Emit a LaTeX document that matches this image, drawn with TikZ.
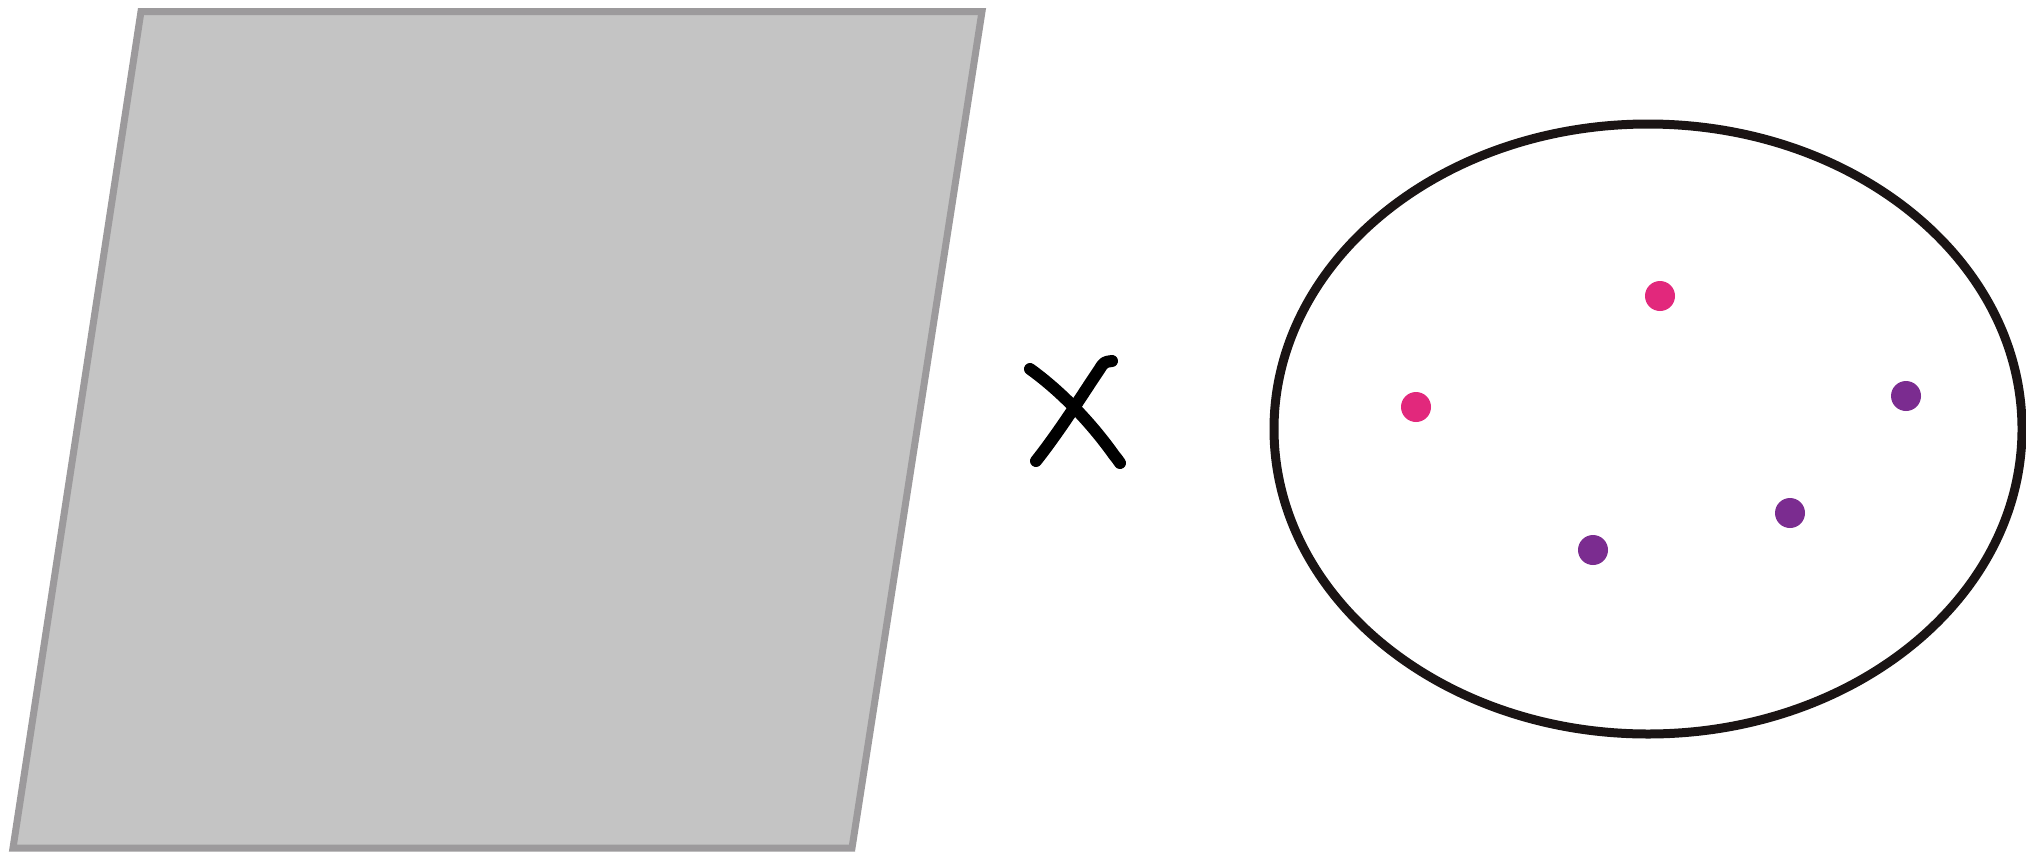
\documentclass[tikz,border=0pt]{standalone}
\usetikzlibrary{shapes.geometric}
\begin{document}
\begin{tikzpicture}[x=1pt,y=-1pt,
  plane/.style={fill=planefill,draw=planeedge,line width=7pt,line join=miter},
  setline/.style={draw=setedge,line width=9pt},
  crossline/.style={draw=black,line width=12pt,line cap=round,line join=round},
  dotpt/.style={circle,inner sep=0pt,minimum size=30pt,fill=#1}]
\definecolor{planefill}{HTML}{C4C4C4}
\definecolor{planeedge}{HTML}{9C9A9C}
\definecolor{setedge}{HTML}{1A1414}
\definecolor{dotpink}{HTML}{E2287C}
\definecolor{dotpurple}{HTML}{7B2C90}
\useasboundingbox (0,0) rectangle (2026,852);
\fill[white] (0,0) rectangle (2026,852);
% plane
\coordinate (p1) at (141,11.5);
\coordinate (p2) at (982,11.5);
\coordinate (p3) at (852,848);
\coordinate (p4) at (13,848);
\draw[plane] (p1) -- (p2) -- (p3) -- (p4) -- cycle;
% cross
\draw[crossline] (1030,369) .. controls (1062,392) and (1092,424) .. (1114,455) .. controls (1118,460) .. (1120,463);
\draw[crossline] (1036,461) .. controls (1062,428) and (1084,392) .. (1099,370) .. controls (1104,362) .. (1112,361);
% set
\node[setline,ellipse,minimum width=748pt,minimum height=610pt,inner sep=0pt] (set) at (1648,429) {};
% points
\node[dotpt=dotpink] (a) at (1660,296) {};
\node[dotpt=dotpink] (b) at (1416,407) {};
\node[dotpt=dotpurple] (c) at (1906,396) {};
\node[dotpt=dotpurple] (d) at (1790,513) {};
\node[dotpt=dotpurple] (e) at (1593,550) {};
\end{tikzpicture}
\end{document}
